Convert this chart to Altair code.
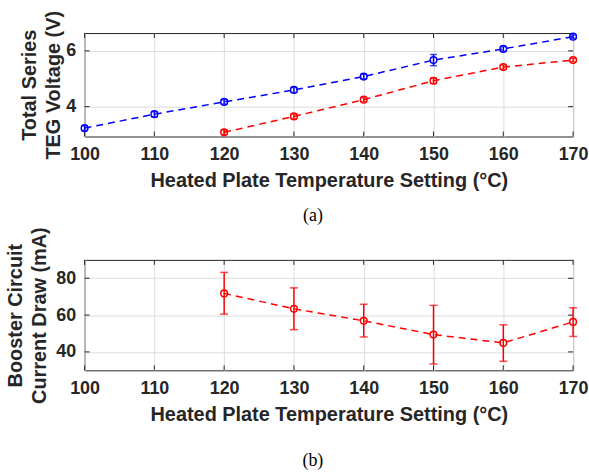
import altair as alt
import pandas as pd

# ---- data ----
temps_blue = [100, 110, 120, 130, 140, 150, 160, 170]
volt_blue = [3.23, 3.73, 4.17, 4.60, 5.08, 5.67, 6.07, 6.51]
err_blue = [0.08, 0.09, 0.08, 0.09, 0.08, 0.20, 0.08, 0.06]

temps_red = [120, 130, 140, 150, 160, 170]
volt_red = [3.08, 3.65, 4.25, 4.93, 5.42, 5.67]
err_red = [0.08, 0.08, 0.07, 0.10, 0.08, 0.06]

current = [71.8, 63.4, 56.9, 49.4, 44.9, 56.3]
current_hi = [83.2, 74.8, 65.9, 65.3, 54.7, 64.0]
current_lo = [60.5, 52.1, 48.1, 33.4, 34.9, 48.4]

x_ticks = [100, 110, 120, 130, 140, 150, 160, 170]
y_ticks_a = [4, 6]
y_ticks_b = [40, 60, 80]

XTITLE = "Heated Plate Temperature Setting (°C)"
W = 491
HA, HB = 104, 111
DARK = "#262626"

df_blue = pd.DataFrame({"x": temps_blue, "y": volt_blue,
                        "lo": [v - e for v, e in zip(volt_blue, err_blue)],
                        "hi": [v + e for v, e in zip(volt_blue, err_blue)]})
df_red = pd.DataFrame({"x": temps_red, "y": volt_red,
                       "lo": [v - e for v, e in zip(volt_red, err_red)],
                       "hi": [v + e for v, e in zip(volt_red, err_red)]})
df_cur = pd.DataFrame({"x": temps_red, "y": current, "lo": current_lo, "hi": current_hi})


def xenc():
    return alt.X("x:Q", title=XTITLE,
                 scale=alt.Scale(domain=[100, 170], nice=False, zero=False),
                 axis=alt.Axis(values=x_ticks, titlePadding=7, labelPadding=9,
                               labelFlush=False))


def yenc(field, domain, ticks, title, tpad):
    return alt.Y(f"{field}:Q", title=title,
                 scale=alt.Scale(domain=domain, nice=False, zero=False),
                 axis=alt.Axis(values=ticks, titlePadding=tpad, labelPadding=9,
                               labelFlush=False))


def series(df, color, domain, ticks, title, tpad, capsize=7):
    base = alt.Chart(df)
    line = base.mark_line(color=color, strokeDash=[7, 5], strokeWidth=1.5).encode(
        x=xenc(), y=yenc("y", domain, ticks, title, tpad))
    bar = base.mark_rule(color=color, strokeWidth=1.5).encode(
        x=xenc(), y=yenc("lo", domain, ticks, title, tpad), y2="hi:Q")
    cap_lo = base.mark_tick(color=color, orient="horizontal", size=capsize, thickness=1.5).encode(
        x=xenc(), y=yenc("lo", domain, ticks, title, tpad))
    cap_hi = base.mark_tick(color=color, orient="horizontal", size=capsize, thickness=1.5).encode(
        x=xenc(), y=yenc("hi", domain, ticks, title, tpad))
    pts = base.mark_point(color=color, shape="circle", filled=False, size=45, strokeWidth=1.5,
                          opacity=1).encode(
        x=xenc(), y=yenc("y", domain, ticks, title, tpad))
    return [line, bar, cap_lo, cap_hi, pts]


def inner_ticks(yt, H, domain, title, tpad):
    xt = pd.DataFrame({"x": x_ticks})
    ytd = pd.DataFrame({"y": yt})
    bx = alt.Chart(xt).mark_rule(color=DARK, strokeWidth=1).encode(
        x=xenc(), y=alt.value(H), y2=alt.value(H - 5))
    tx = alt.Chart(xt).mark_rule(color=DARK, strokeWidth=1).encode(
        x=xenc(), y=alt.value(0), y2=alt.value(5))
    ly = alt.Chart(ytd).mark_rule(color=DARK, strokeWidth=1).encode(
        y=yenc("y", domain, yt, title, tpad), x=alt.value(0), x2=alt.value(5))
    ry = alt.Chart(ytd).mark_rule(color=DARK, strokeWidth=1).encode(
        y=yenc("y", domain, yt, title, tpad), x=alt.value(W), x2=alt.value(W - 5))
    return [bx, tx, ly, ry]


dom_a = [2.93, 6.64]
title_a = ["Total Series", "TEG Voltage (V)"]
panel_a = alt.layer(
    *inner_ticks(y_ticks_a, HA, dom_a, title_a, 2),
    *series(df_blue, "#0000ff", dom_a, y_ticks_a, title_a, 2),
    *series(df_red, "#ff0000", dom_a, y_ticks_a, title_a, 2),
).properties(
    width=W, height=HA,
    title=alt.TitleParams("(a)", orient="bottom", font="Liberation Serif", fontSize=18,
                          fontWeight="normal", color="black", frame="group", dx=-16, offset=17),
)

dom_b = [30, 90]
title_b = ["Booster Circuit", "Current Draw (mA)"]
panel_b = alt.layer(
    *inner_ticks(y_ticks_b, HB, dom_b, title_b, 6),
    *series(df_cur, "#ff0000", dom_b, y_ticks_b, title_b, 6, capsize=8),
).properties(
    width=W, height=HB,
    title=alt.TitleParams("(b)", orient="bottom", font="Liberation Serif", fontSize=18,
                          fontWeight="normal", color="black", frame="group", dx=-16, offset=28),
)

chart = alt.vconcat(panel_a, panel_b, spacing=0).properties(
    padding={"left": 5, "top": 8, "right": 0, "bottom": 0},
    background="white",
).configure_view(
    stroke=DARK, strokeWidth=1,
).configure_axis(
    labelFont="Liberation Sans", labelFontWeight="bold", labelFontSize=18, labelColor=DARK,
    titleFont="Liberation Sans", titleFontWeight="bold", titleFontSize=20, titleColor=DARK,
    domain=False, ticks=False, grid=True, gridColor="#dcdcdc", gridWidth=1,
    titleLineHeight=24,
)

chart.save("out.html", embed_options={"renderer": "svg", "actions": False})
